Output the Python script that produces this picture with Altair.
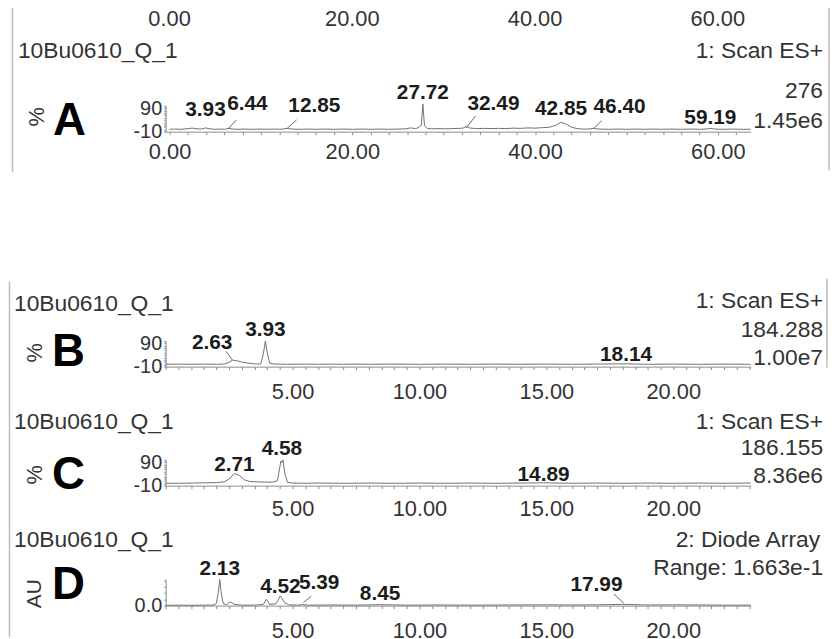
import altair as alt
import pandas as pd

FONT = "Liberation Sans"
INK = "#333333"
BOLD_INK = "#1c1c1c"
TRACE = "#707070"
AXIS_C = "#8c8c8c"
BORDER = "#bdbdbd"
W = 590

# ---------------- Panel A : 0-64 min, % scale ----------------
A_trace = [(0.0, 0), (0.6, 1), (1.2, 0), (1.8, 2), (2.5, 5), (3.0, 2), (3.5, 1), (3.93, 6), (4.4, 2),
           (5.0, 0), (5.6, 1), (6.0, 0), (6.44, 4), (6.9, 1), (7.5, 0), (8.2, 1), (9.0, 0), (9.8, 1),
           (10.6, 0), (11.4, 1), (12.2, 0), (12.85, 4), (13.4, 1), (14.2, 0), (15.0, 1), (16.0, 0),
           (17.0, 1), (18.0, 0), (19.0, 1), (20.0, 0), (21.0, 1), (22.0, 0), (23.0, 1), (24.0, 0),
           (25.0, 1), (25.8, 2), (26.4, 6), (26.9, 3), (27.3, 8), (27.55, 18), (27.72, 108), (27.9, 15),
           (28.2, 4), (28.7, 2), (29.4, 3), (30.2, 2), (31.0, 3), (31.7, 4), (32.1, 5), (32.49, 12),
           (32.9, 5), (33.6, 3), (34.4, 4), (35.2, 3), (36.0, 4), (36.8, 3), (37.6, 5), (38.4, 4),
           (39.2, 6), (40.0, 5), (40.8, 7), (41.6, 9), (42.2, 16), (42.85, 30), (43.4, 22), (44.0, 9),
           (44.6, 3), (45.2, 1), (45.8, 1), (46.4, 4), (47.0, 1), (48.0, 0), (49.0, 1), (50.0, 0),
           (51.0, 1), (52.0, 0), (53.0, 1), (54.0, 0), (55.0, 1), (56.0, 0), (57.0, 1), (58.0, 0),
           (58.7, 1), (59.19, 4), (59.7, 1), (60.5, 0), (61.5, 1), (62.5, 0), (63.6, 0)]
A_peak_text = ["3.93", "6.44", "12.85", "27.72", "32.49", "42.85", "46.40", "59.19"]
A_peak_x = [3.93, 6.3, 13.0, 27.72, 32.6, 42.85, 46.4, 59.19]
A_peak_y = [83, 108, 100, 155, 108, 87, 96, 49]
A_peak_align = ["center", "left", "left", "center", "left", "center", "left", "center"]
A_leaders = [(6.44, 3, 7.3, 40), (12.85, 3, 13.9, 40), (32.45, 6, 33.5, 57), (46.4, 2, 47.3, 37)]
A_top_labels = ["0.00", "20.00", "40.00", "60.00"]
A_top_label_x = [0, 20, 40, 60]

# ---------------- Panel B ----------------
B_trace = [(0, 0), (0.5, 1), (1.0, 0), (1.5, 1), (2.0, 0), (2.3, 1), (2.5, 8), (2.63, 18), (2.8, 15),
           (3.0, 10), (3.2, 6), (3.4, 3), (3.6, 1), (3.75, 2), (3.85, 45), (3.93, 100), (4.0, 50),
           (4.1, 4), (4.3, 1), (4.8, 0), (5.5, 1), (6.0, 0), (6.5, 1), (7, 0), (7.5, 1), (8, 0), (9, 1),
           (10, 0), (11, 1), (12, 0), (13, 1), (14, 0), (15, 1), (16, 0), (17, 1), (18.14, 2), (19, 0),
           (20, 1), (21, 0), (22, 1), (23.05, 0)]
B_peak_text = ["2.63", "3.93", "18.14"]
B_peak_x = [2.63, 3.93, 18.14]
B_peak_y = [90, 147, 41]
B_peak_align = ["right", "center", "center"]
B_leaders = [(2.38, 55, 2.63, 18)]

# ---------------- Panel C ----------------
C_trace = [(0, 0), (0.5, 0), (1.0, 1), (1.5, 2), (2.0, 3), (2.3, 6), (2.5, 18), (2.71, 42), (2.9, 34),
           (3.1, 15), (3.3, 8), (3.6, 6), (3.9, 5), (4.2, 5), (4.4, 10), (4.5, 70), (4.54, 95),
           (4.58, 88), (4.62, 100), (4.7, 40), (4.8, 4), (5.0, 1), (5.5, 0), (6, 1), (7, 0), (8, 1),
           (9, 0), (10, 1), (11, 0), (12, 1), (13, 0), (14, 1), (14.89, 2), (16, 0), (17, 1), (18, 0),
           (19, 1), (20, 0), (21, 1), (22, 0), (23.05, 1)]
C_peak_text = ["2.71", "4.58", "14.89"]
C_peak_x = [2.71, 4.58, 14.89]
C_peak_y = [79, 146, 36]
C_peak_align = ["center", "center", "center"]

# ---------------- Panel D : diode array, AU ----------------
D_trace = [(0, 0.002), (0.5, 0.003), (1.0, 0.002), (1.5, 0.003), (1.9, 0.004), (2.0, 0.015),
           (2.07, 0.08), (2.13, 0.165), (2.19, 0.08), (2.27, 0.012), (2.4, 0.006), (2.55, 0.024),
           (2.7, 0.008), (3.0, 0.003), (3.5, 0.003), (3.85, 0.008), (3.97, 0.04), (4.1, 0.007),
           (4.35, 0.012), (4.52, 0.062), (4.68, 0.02), (4.85, 0.005), (5.2, 0.003), (5.39, 0.007),
           (5.6, 0.003), (6.5, 0.004), (7.5, 0.003), (8.45, 0.006), (9.5, 0.003), (10.5, 0.004),
           (12, 0.003), (13.5, 0.004), (15, 0.005), (16, 0.004), (17, 0.005), (17.99, 0.008),
           (19, 0.004), (20, 0.005), (21, 0.004), (22, 0.003), (23.05, 0.003)]
D_peak_text = ["2.13", "4.52", "5.39", "8.45", "17.99"]
D_peak_x = [2.13, 4.52, 5.25, 8.45, 18.0]
D_peak_y = [0.233, 0.120, 0.145, 0.075, 0.132]
D_peak_align = ["center", "center", "left", "center", "right"]
D_leaders = [(5.43, 0.02, 5.74, 0.06), (17.66, 0.075, 18.05, 0.015)]

SHORT_TICKS = [i * 0.5 for i in range(0, 47)]


def x_axis(values, label_test, pad):
    return alt.Axis(title="", values=values, grid=False,
                    labelExpr=f"({label_test}) ? format(datum.value, '.2f') : ''",
                    labelFlush=False, labelOverlap=False, labelPadding=pad,
                    labelFont=FONT, labelFontSize=22, labelColor=INK,
                    domainColor=AXIS_C, tickColor=AXIS_C, tickSize=3, domainWidth=1)


def y_axis(values, expr):
    return alt.Axis(title="", values=values, grid=False, labelExpr=expr,
                    labelFlush=False, labelOverlap=False, labelPadding=2,
                    labelFont=FONT, labelFontSize=20, labelColor=INK,
                    domainColor=AXIS_C, tickColor=AXIS_C, tickSize=2, domainWidth=1)


def note(text, dx, dy, align="left", size=23, weight="normal", angle=0,
         baseline="middle", color=INK):
    return alt.Chart(pd.DataFrame({"s": [text]})).mark_text(
        align=align, baseline=baseline, fontSize=size, fontWeight=weight,
        angle=angle, font=FONT, color=color
    ).encode(x=alt.value(dx), y=alt.value(dy), text="s:N")


def vline(dx, y1, y2):
    return alt.Chart(pd.DataFrame({"k": [0]})).mark_rule(
        color=BORDER, strokeWidth=1.5
    ).encode(x=alt.value(dx), y=alt.value(y1), y2=alt.value(y2))


def panel(trace, xs, ys, xax, yax, ptext, px, py, palign, leaders, extras, height, xlayers=()):
    tdf = pd.DataFrame(trace, columns=["t", "v"])
    layers = [alt.Chart(tdf).mark_line(color=TRACE, strokeWidth=1).encode(
        x=alt.X("t:Q", scale=xs, axis=xax), y=alt.Y("v:Q", scale=ys, axis=yax))]
    pdf = pd.DataFrame({"t": px, "v": py, "s": ptext, "a": palign})
    for al in ["left", "center", "right"]:
        sub = pdf[pdf["a"] == al]
        if len(sub):
            layers.append(alt.Chart(sub).mark_text(
                align=al, baseline="middle", font=FONT, fontSize=21,
                fontWeight="bold", color=BOLD_INK
            ).encode(x=alt.X("t:Q", scale=xs, axis=xax),
                     y=alt.Y("v:Q", scale=ys, axis=yax), text="s:N"))
    if leaders:
        ldf = pd.DataFrame(leaders, columns=["t", "v", "t2", "v2"])
        layers.append(alt.Chart(ldf).mark_rule(color="#666666", strokeWidth=1).encode(
            x=alt.X("t:Q", scale=xs, axis=xax), y=alt.Y("v:Q", scale=ys, axis=yax),
            x2="t2:Q", y2="v2:Q"))
    for mk in xlayers:
        layers.append(mk(xs, xax))
    layers.extend(extras)
    return alt.layer(*layers).properties(width=W, height=height)


pct_scale = alt.Scale(domain=[-10, 100], nice=False, zero=False)
pct_ticks = list(range(-10, 101, 10))
pct_expr = "datum.value === 90 ? '90' : (datum.value === -10 ? '-10' : '')"
xs_A = alt.Scale(domain=[-0.43, 63.6], nice=False, zero=False)
xs_B = alt.Scale(domain=[0, 23.05], nice=False, zero=False)


# top row: tick labels of the cut-off chromatogram above panel A
def top_labels(xs, xax):
    return alt.Chart(pd.DataFrame({"t": A_top_label_x, "s": A_top_labels})).mark_text(
        align="center", baseline="middle", font=FONT, fontSize=22, color=INK
    ).encode(x=alt.X("t:Q", scale=xs, axis=xax), y=alt.value(-88), text="s:N")


axA = x_axis(list(range(0, 64, 2)), "datum.value % 20 === 0", 7)
pA = panel(A_trace, xs_A, pct_scale, axA, y_axis(pct_ticks, pct_expr),
           A_peak_text, A_peak_x, A_peak_y, A_peak_align, A_leaders,
           [note("10Bu0610_Q_1", -149, -55),
            note("1: Scan ES+", 663, -55, align="right"),
            note("276", 663, -15, align="right"),
            note("1.45e6", 663, 15, align="right"),
            note("%", -130, 11, align="center", size=22, angle=270),
            note("A", -97, 29, align="center", size=46, weight="bold",
                 baseline="alphabetic", color="#000000"),
            vline(-154.5, -104, 67), vline(669, -108, 65)],
           26, xlayers=(top_labels,))

spacer = alt.Chart(pd.DataFrame({"k": [0]})).mark_point(opacity=0).encode(
    x=alt.value(0), y=alt.value(0)).properties(width=W, height=23)

pB = panel(B_trace, xs_B, pct_scale,
           x_axis(SHORT_TICKS, "datum.value % 5 === 0 && datum.value > 0", 12),
           y_axis(pct_ticks, pct_expr),
           B_peak_text, B_peak_x, B_peak_y, B_peak_align, B_leaders,
           [note("10Bu0610_Q_1", -153, -37),
            note("1: Scan ES+", 663, -40, align="right"),
            note("184.288", 663, -11, align="right"),
            note("1.00e7", 663, 17, align="right"),
            note("%", -132, 12, align="center", size=22, angle=270),
            note("B", -98, 25, align="center", size=46, weight="bold",
                 baseline="alphabetic", color="#000000"),
            vline(-157.5, -60, 299), vline(667, -63, 27)],
           26)

pC = panel(C_trace, xs_B, pct_scale,
           x_axis(SHORT_TICKS, "datum.value % 5 === 0 && datum.value > 0", 10),
           y_axis(pct_ticks, pct_expr),
           C_peak_text, C_peak_x, C_peak_y, C_peak_align, [],
           [note("10Bu0610_Q_1", -153, -38),
            note("1: Scan ES+", 663, -38, align="right"),
            note("186.155", 663, -12, align="right"),
            note("8.36e6", 663, 16, align="right"),
            note("%", -132, 15, align="center", size=22, angle=270),
            note("C", -98, 29, align="center", size=46, weight="bold",
                 baseline="alphabetic", color="#000000")],
           26)

pD = panel(D_trace, xs_B, alt.Scale(domain=[0, 0.17], nice=False, zero=False),
           x_axis(SHORT_TICKS, "datum.value % 5 === 0 && datum.value > 0", 12),
           y_axis([0, 0.04, 0.08, 0.12, 0.16], "datum.value === 0 ? '0.0' : ''"),
           D_peak_text, D_peak_x, D_peak_y, D_peak_align, D_leaders,
           [note("10Bu0610_Q_1", -153, -39),
            note("2: Diode Array", 660, -39, align="right"),
            note("Range: 1.663e-1", 663, -11, align="right"),
            note("AU", -132, 15, align="center", size=21, angle=270),
            note("D", -98, 20, align="center", size=46, weight="bold",
                 baseline="alphabetic", color="#000000")],
           27)

chart = alt.vconcat(pA, spacer, pB, pC, pD, spacing=94, bounds="flush").properties(
    padding={"top": -13, "left": 0, "right": 0, "bottom": 0}, background="white"
).configure_view(strokeWidth=0)

chart.save("out.html", embed_options={"renderer": "svg", "actions": False})
